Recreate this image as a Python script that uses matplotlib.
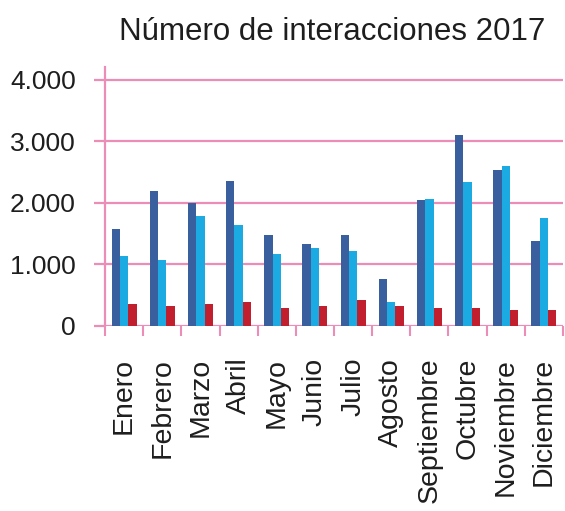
import matplotlib.pyplot as plt
import numpy as np

plt.rcParams['font.family'] = ['Liberation Sans', 'DejaVu Sans']

meses = ['Enero', 'Febrero', 'Marzo', 'Abril', 'Mayo', 'Junio', 'Julio',
         'Agosto', 'Septiembre', 'Octubre', 'Noviembre', 'Diciembre']
serie1 = [1567, 2195, 2000, 2348, 1475, 1323, 1475, 754, 2039, 3096, 2537, 1377]
serie2 = [1128, 1068, 1789, 1632, 1161, 1258, 1220, 380, 2065, 2342, 2592, 1751]
serie3 = [348, 315, 348, 380, 288, 320, 413, 315, 288, 288, 260, 260]
yticks = [0, 1000, 2000, 3000, 4000]
ylabels = ['0', '1.000', '2.000', '3.000', '4.000']

rosa = '#EC8DB7'
texto = '#1E1E1E'
colores = ['#3A5F9E', '#1BAAE2', '#C21F2E']

fig = plt.figure(figsize=(5.65, 5.11), dpi=100)
ax = fig.add_axes([105/565, 1-325.7/511, 458/565, (325.7-67)/511])

x = np.arange(len(meses))
w = 0.218
ax.bar(x - w, serie1, w, color=colores[0], zorder=3)
ax.bar(x, serie2, w, color=colores[1], zorder=3)
ax.bar(x + w, serie3, w, color=colores[2], zorder=3)

ax.set_xlim(-0.5, 11.5)
ax.set_ylim(0, 4207)

ax.set_yticks(yticks)
ax.set_yticklabels(ylabels, fontsize=19, color=texto)
ax.yaxis.grid(True, color=rosa, linewidth=1.6)
ax.set_axisbelow(True)

ax.set_xticks(x)
ax.set_xticklabels(meses, rotation=90, fontsize=20.5, va='top', ha='center',
                   color=texto)
ax.set_xticks(np.arange(-0.5, 12, 1), minor=True)
ax.tick_params(axis='x', which='major', length=0, pad=23)
ax.tick_params(axis='x', which='minor', length=7.5, width=1.5, color=rosa)
ax.tick_params(axis='y', length=8, width=1.6, color=rosa, pad=13)

for s in ['top', 'right', 'bottom']:
    ax.spines[s].set_visible(False)
ax.spines['left'].set_color(rosa)
ax.spines['left'].set_linewidth(1.6)

fig.text(332.5/565, 1-40/511, 'Número de interacciones 2017', fontsize=22.5,
         ha='center', va='baseline', color=texto)

fig.savefig('out.png', dpi=100)
